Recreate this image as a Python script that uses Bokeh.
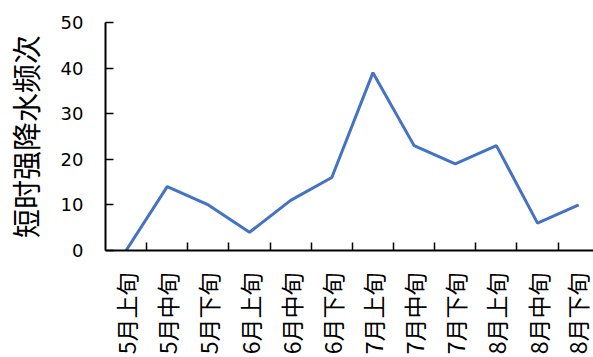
import math

from bokeh.plotting import figure
from bokeh.models import FixedTicker, LinearAxis, Range1d
from bokeh.embed import file_html
from bokeh.resources import INLINE

# Ten-day periods (旬) from May to August
periods = ["5月上旬", "5月中旬", "5月下旬",
           "6月上旬", "6月中旬", "6月下旬",
           "7月上旬", "7月中旬", "7月下旬",
           "8月上旬", "8月中旬", "8月下旬"]
# Number of short-duration heavy rainfall events per period
counts = [0, 14, 10, 4, 11, 16, 39, 23, 19, 23, 6, 10]
y_ticks = [0, 10, 20, 30, 40, 50]

xs = list(range(len(periods)))

p = figure(width=593, height=357, output_backend="svg", toolbar_location=None,
           x_range=Range1d(-0.5, 11.36), y_range=Range1d(0, 50),
           x_axis_type=None, y_axis_type=None,
           min_border_left=102, min_border_right=0,
           min_border_top=22, min_border_bottom=107)
p.outline_line_color = None
p.background_fill_color = "white"
p.border_fill_color = "white"

# Category axis: labels at the centres, tick marks between categories
xaxis = LinearAxis(ticker=FixedTicker(ticks=xs,
                                      minor_ticks=[i + 0.5 for i in xs]))
xaxis.major_label_overrides = {i: lab for i, lab in enumerate(periods)}
xaxis.major_label_orientation = math.pi / 2
xaxis.major_label_text_font = "Noto Sans CJK SC"
xaxis.major_label_text_font_size = "23px"
xaxis.major_label_text_color = "black"
xaxis.major_label_standoff = 16
xaxis.major_tick_line_color = None
xaxis.minor_tick_line_color = "black"
xaxis.minor_tick_line_width = 1.5
xaxis.minor_tick_in = 8
xaxis.minor_tick_out = 0
xaxis.axis_line_color = "black"
xaxis.axis_line_width = 2
p.add_layout(xaxis, "below")

yaxis = LinearAxis(ticker=FixedTicker(ticks=y_ticks))
yaxis.axis_label = "短时强降水频次"
yaxis.axis_label_text_font = "Noto Sans CJK SC"
yaxis.axis_label_text_font_style = "normal"
yaxis.axis_label_text_font_size = "29px"
yaxis.axis_label_text_color = "black"
yaxis.axis_label_standoff = 12
yaxis.major_label_text_font = "DejaVu Sans"
yaxis.major_label_text_font_size = "18px"
yaxis.major_label_text_color = "black"
yaxis.major_label_standoff = 22
yaxis.major_tick_in = 8
yaxis.major_tick_out = 0
yaxis.major_tick_line_width = 1.5
yaxis.minor_tick_line_color = None
yaxis.axis_line_color = "black"
yaxis.axis_line_width = 2
p.add_layout(yaxis, "left")

p.ygrid.ticker = FixedTicker(ticks=y_ticks)
p.ygrid.grid_line_color = "#e6e6e6"
p.ygrid.grid_line_width = 1.5
p.xgrid.visible = False

p.line(xs, counts, line_color="#4472C4", line_width=3)

open("out.html", "w").write(file_html(p, INLINE))
